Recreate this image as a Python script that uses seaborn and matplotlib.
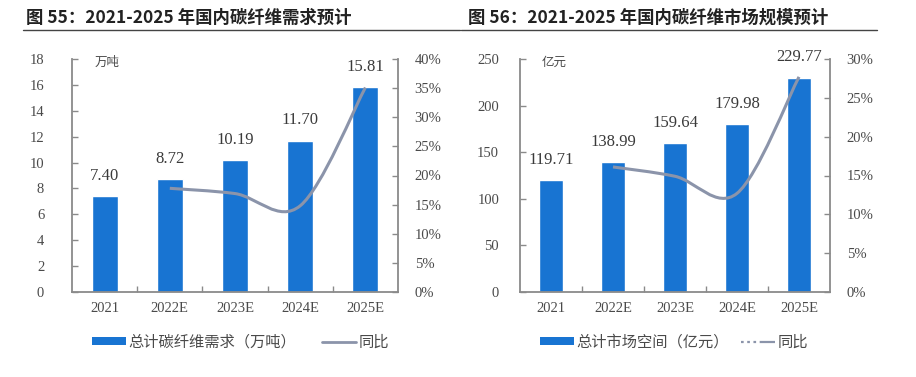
import matplotlib
matplotlib.use("Agg")
import matplotlib.pyplot as plt
import seaborn as sns
import pandas as pd
from matplotlib.path import Path
from matplotlib.patches import PathPatch, Patch
from matplotlib.lines import Line2D
from matplotlib.ticker import FuncFormatter, FixedLocator
from matplotlib.font_manager import FontProperties

# ---------------- data ----------------
categories = ["2021", "2022E", "2023E", "2024E", "2025E"]
demand = [7.40, 8.72, 10.19, 11.70, 15.81]          # 万吨
demand_yoy = [17.8, 16.9, 14.8, 35.1]               # % for 2022E-2025E
market = [119.71, 138.99, 159.64, 179.98, 229.77]   # 亿元
market_yoy = [16.1, 14.9, 12.7, 27.7]               # % for 2022E-2025E

title_left = "图 55：2021-2025 年国内碳纤维需求预计"
title_right = "图 56：2021-2025 年国内碳纤维市场规模预计"
unit_left = "万吨"
unit_right = "亿元"
legend_left = ["总计碳纤维需求（万吨）", "同比"]
legend_right = ["总计市场空间（亿元）", "同比"]
left_ticks_l = [0, 2, 4, 6, 8, 10, 12, 14, 16, 18]
right_ticks_l = [0, 5, 10, 15, 20, 25, 30, 35, 40]
left_ticks_r = [0, 50, 100, 150, 200, 250]
right_ticks_r = [0, 5, 10, 15, 20, 25, 30]

# ---------------- style ----------------
sns.set_theme(style="white")
plt.rcParams["font.family"] = ["Noto Sans CJK SC", "DejaVu Sans"]

BLUE = "#1874d2"
LINE = "#8b94aa"
SPINE = "#8a8a8a"
TXT = "#4a4a4a"
serif = FontProperties(family=["Liberation Serif"], size=10.5)
serif_lbl = FontProperties(family=["Liberation Serif"], size=12)
cjk = FontProperties(family=["Noto Sans CJK SC", "DejaVu Sans"], size=11)

W, H = 916, 377
fig = plt.figure(figsize=(W / 100, H / 100), dpi=100)


def smooth_path(xs, ys):
    pts = list(zip(xs, ys))
    n = len(pts)
    verts = [pts[0]]
    codes = [Path.MOVETO]
    for i in range(n - 1):
        p0 = pts[i - 1] if i > 0 else pts[i]
        p1 = pts[i]
        p2 = pts[i + 1]
        p3 = pts[i + 2] if i + 2 < n else pts[i + 1]
        c1 = (p1[0] + (p2[0] - p0[0]) / 6, p1[1] + (p2[1] - p0[1]) / 6)
        c2 = (p2[0] - (p3[0] - p1[0]) / 6, p2[1] - (p3[1] - p1[1]) / 6)
        verts += [c1, c2, p2]
        codes += [Path.CURVE4] * 3
    return Path(verts, codes)


def panel(rect, values, yoy, lticks, rticks, unit, fmt, lpad, rpad):
    ax = fig.add_axes(rect)
    df = pd.DataFrame({"cat": categories, "val": values})
    sns.barplot(data=df, x="cat", y="val", color=BLUE, width=0.4,
                saturation=1, ax=ax, zorder=2)
    ax.set_xlim(-0.5, len(categories) - 0.5)
    ax.set_ylim(lticks[0], lticks[-1])
    ax.set_yticks(lticks)
    ax.set_xlabel("")
    ax.set_ylabel("")
    for s in ["top", "right"]:
        ax.spines[s].set_visible(False)
    for s in ["left", "bottom"]:
        ax.spines[s].set_color(SPINE)
        ax.spines[s].set_linewidth(1.3)
    ax.tick_params(axis="y", direction="in", length=4, color=SPINE, width=1,
                   pad=lpad, left=True)
    ax.tick_params(axis="x", which="major", length=0, pad=7)
    ax.xaxis.set_minor_locator(FixedLocator([0.5, 1.5, 2.5, 3.5]))
    ax.tick_params(axis="x", which="minor", direction="in", length=4,
                   color=SPINE, width=1, bottom=True)
    for lab in ax.get_yticklabels() + ax.get_xticklabels():
        lab.set_fontproperties(serif)
        lab.set_color(TXT)
    for i, v in enumerate(values):
        ax.annotate(f"{v:.2f}", (i, v), xytext=(0, 9), textcoords="offset points",
                    ha="center", va="bottom", fontproperties=serif_lbl, color="#3a3a3a")
    ax.text(0.07, 0.985, unit, transform=ax.transAxes, ha="left", va="center",
            fontsize=9, color=TXT, style="italic")

    ax2 = ax.twinx()
    ax2.set_ylim(rticks[0], rticks[-1])
    ax2.set_yticks(rticks)
    ax2.yaxis.set_major_formatter(FuncFormatter(lambda v, p: f"{v:.0f}%"))
    for s in ["top", "left", "bottom"]:
        ax2.spines[s].set_visible(False)
    ax2.spines["right"].set_color(SPINE)
    ax2.spines["right"].set_linewidth(1.3)
    ax2.tick_params(axis="y", direction="in", length=4, color=SPINE, width=1,
                    pad=rpad, right=True)
    for lab in ax2.get_yticklabels():
        lab.set_fontproperties(serif)
        lab.set_color(TXT)
    xs = list(range(1, len(categories)))
    path = smooth_path(xs, yoy)
    ax2.add_patch(PathPatch(path, facecolor="none", edgecolor=LINE, lw=2.2,
                            zorder=3))
    return ax, ax2


# left panel
panel([72 / W, 1 - 292 / H, (398 - 72) / W, (292 - 59) / H],
      demand, demand_yoy, left_ticks_l, right_ticks_l, unit_left, None, 20, 12)
# right panel
panel([520 / W, 1 - 292 / H, (830 - 520) / W, (292 - 59) / H],
      market, market_yoy, left_ticks_r, right_ticks_r, unit_right, None, 15, 12)

# titles and rules
title_fp = FontProperties(family=["Noto Sans CJK SC", "DejaVu Sans"], size=12.5,
                          weight="bold")
fig.text(26 / W, 1 - 18 / H, title_left, fontproperties=title_fp, ha="left",
         va="center", color="#222222")
fig.text(468 / W, 1 - 18 / H, title_right, fontproperties=title_fp, ha="left",
         va="center", color="#222222")
fig.add_artist(Line2D([23 / W, 460 / W], [1 - 30 / H] * 2, color="#444444", lw=1))
fig.add_artist(Line2D([461 / W, 877 / W], [1 - 30 / H] * 2, color="#444444", lw=1))

# legends
hp = Patch(facecolor=BLUE, edgecolor="none")
hl = Line2D([], [], color=LINE, lw=2)
hl2 = Line2D([], [], color=LINE, lw=1.6, dashes=(1.2, 1.6, 1.2, 1.6, 1.2, 1.6, 12, 0.1))
common = dict(loc="center left", ncol=2, frameon=False, prop=cjk,
              handlelength=2.2, handleheight=0.5, handletextpad=0.2,
              borderpad=0, borderaxespad=0, labelcolor=TXT)
fig.legend([hp, hl], legend_left, bbox_to_anchor=(92 / W, 1 - 342 / H),
           columnspacing=1.7, **common)
fig.legend([hp, hl2], legend_right, bbox_to_anchor=(540 / W, 1 - 342 / H),
           columnspacing=0.8, **common)

fig.savefig("out.png", dpi=100)
